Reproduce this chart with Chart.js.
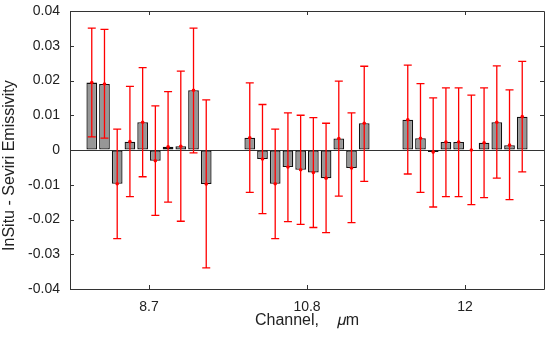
<!DOCTYPE html>
<html>
<head>
<meta charset="utf-8">
<script src="https://cdn.jsdelivr.net/npm/chart.js@4.4.1/dist/chart.umd.min.js"></script>
<style>
html,body{margin:0;padding:0;background:#fff;}
#wrap{width:550px;height:338px;position:relative;}
</style>
</head>
<body>
<div id="wrap"><canvas id="c" width="550" height="338"></canvas></div>
<script>
// Categories (channel centres, µm)
const channels = ['8.7', '10.8', '12'];
// Y-axis tick labels
const yTicks = [-0.04, -0.03, -0.02, -0.01, 0, 0.01, 0.02, 0.03, 0.04];

// Mean differences per channel (10 bars per channel)
const mean87  = [0.0194, 0.0190, -0.0097, 0.0024, 0.0080, -0.0031, 0.0009, 0.0011, 0.0172, -0.0098];
const mean108 = [0.0035, -0.0026, -0.0097, -0.0049, -0.0057, -0.0065, -0.0081, 0.0033, -0.0052, 0.0077];
const mean120 = [0.0087, 0.0034, -0.0006, 0.0023, 0.0023, 0.0000, 0.0021, 0.0080, 0.0014, 0.0096];

// Error bar upper ends
const hi87  = [0.0351, 0.0347, 0.0060, 0.0183, 0.0237, 0.0127, 0.0168, 0.0227, 0.0351, 0.0144];
const hi108 = [0.0193, 0.0131, 0.0060, 0.0107, 0.0100, 0.0093, 0.0077, 0.0198, 0.0107, 0.0241];
const hi120 = [0.0244, 0.0191, 0.0150, 0.0179, 0.0179, 0.0158, 0.0179, 0.0242, 0.0173, 0.0255];

// Error bar lower ends
const lo87  = [0.0038, 0.0034, -0.0255, -0.0134, -0.0077, -0.0188, -0.0150, -0.0205, -0.0008, -0.0339];
const lo108 = [-0.0122, -0.0183, -0.0255, -0.0206, -0.0214, -0.0223, -0.0238, -0.0133, -0.0209, -0.0090];
const lo120 = [-0.0069, -0.0122, -0.0164, -0.0134, -0.0134, -0.0157, -0.0137, -0.0081, -0.0143, -0.0063];

const means = [mean87, mean108, mean120];
const highs = [hi87, hi108, hi120];
const lows  = [lo87, lo108, lo120];

const FONT = "'Liberation Sans', Arial, Helvetica, sans-serif";
const TXT = '#222';
const AX = '#333';

const nBars = mean87.length;
const datasets = [];
for (let i = 0; i < nBars; i++) {
  datasets.push({
    label: 'S' + (i + 1),
    data: means.map(m => m[i]),
    hi: highs.map(h => h[i]),
    lo: lows.map(l => l[i]),
    backgroundColor: '#979797',
    borderColor: '#111',
    borderWidth: 1.3,
    borderSkipped: false,
    categoryPercentage: 0.805,
    barPercentage: 0.84
  });
}

const errorBars = {
  id: 'errorBars',
  afterDatasetsDraw(chart) {
    const ctx = chart.ctx;
    const y = chart.scales.y;
    ctx.save();
    ctx.strokeStyle = '#ff0000';
    ctx.fillStyle = '#ff0000';
    ctx.lineWidth = 1.3;
    chart.data.datasets.forEach((ds, i) => {
      const meta = chart.getDatasetMeta(i);
      meta.data.forEach((bar, j) => {
        const x = bar.x;
        const yh = y.getPixelForValue(ds.hi[j]);
        const yl = y.getPixelForValue(ds.lo[j]);
        const ym = y.getPixelForValue(ds.data[j]);
        const cw = 4;
        ctx.beginPath();
        ctx.moveTo(x, yh); ctx.lineTo(x, yl);
        ctx.moveTo(x - cw, yh); ctx.lineTo(x + cw, yh);
        ctx.moveTo(x - cw, yl); ctx.lineTo(x + cw, yl);
        ctx.stroke();
        ctx.beginPath();
        ctx.arc(x, ym, 1.8, 0, Math.PI * 2);
        ctx.fill();
      });
    });
    ctx.restore();
  }
};

const boxTicks = {
  id: 'boxTicks',
  afterDraw(chart) {
    const ctx = chart.ctx;
    const a = chart.chartArea;
    const xs = chart.scales.x, ys = chart.scales.y;
    ctx.save();
    ctx.strokeStyle = AX;
    ctx.lineWidth = 1;
    ctx.beginPath();
    ctx.rect(Math.round(a.left) + 0.5, Math.round(a.top) + 0.5,
             Math.round(a.right - a.left), Math.round(a.bottom - a.top));
    ctx.stroke();
    const tl = 4;
    ctx.beginPath();
    yTicks.forEach(v => {
      const py = Math.round(ys.getPixelForValue(v)) + 0.5;
      ctx.moveTo(a.left, py); ctx.lineTo(a.left + tl, py);
      ctx.moveTo(a.right, py); ctx.lineTo(a.right - tl, py);
    });
    channels.forEach((c, i) => {
      const px = Math.round(xs.getPixelForValue(i)) + 0.5;
      ctx.moveTo(px, a.bottom); ctx.lineTo(px, a.bottom - tl);
      ctx.moveTo(px, a.top); ctx.lineTo(px, a.top + tl);
    });
    ctx.stroke();
    ctx.restore();
  }
};

new Chart(document.getElementById('c'), {
  type: 'bar',
  data: { labels: channels, datasets },
  options: {
    responsive: false,
    animation: false,
    devicePixelRatio: 1,
    layout: { padding: { left: 0, right: 6, top: 11, bottom: 0 } },
    plugins: { legend: { display: false }, tooltip: { enabled: false } },
    scales: {
      x: {
        grid: { display: false, drawTicks: false },
        border: { display: false },
        ticks: { color: TXT, font: { family: FONT, size: 14 }, padding: 10, maxRotation: 0 },
        title: {
          display: true,
          text: 'Channel,    \u{1D707}m',
          color: TXT,
          font: { family: "'Liberation Sans', 'DejaVu Sans', 'Noto Sans', sans-serif", size: 16 },
          padding: { top: 0, bottom: 8 }
        },
        afterFit(scale) { scale.height = 49; scale.paddingLeft = 0; scale.paddingRight = 0; }
      },
      y: {
        min: -0.04, max: 0.04,
        afterBuildTicks(scale) { scale.ticks = yTicks.map(v => ({ value: v })); },
        grid: {
          drawTicks: false,
          color: ctx => (ctx.tick && ctx.tick.value === 0 ? AX : 'rgba(0,0,0,0)'),
          lineWidth: 1
        },
        border: { display: false },
        ticks: {
          color: TXT,
          font: { family: FONT, size: 14 },
          padding: 10,
          callback: v => (v === 0 ? '0' : String(Math.round(v * 100) / 100))
        },
        title: {
          display: true,
          text: 'InSitu - Seviri Emissivity       ',
          color: TXT,
          font: { family: FONT, size: 16 },
          padding: { top: 0, bottom: 0 }
        },
        afterFit(scale) { scale.width = 70; scale.paddingTop = 0; scale.paddingBottom = 0; }
      }
    }
  },
  plugins: [errorBars, boxTicks]
});
</script>
</body>
</html>
